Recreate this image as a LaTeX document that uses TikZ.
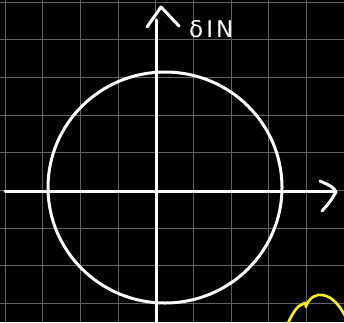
\documentclass[tikz,border=0pt]{standalone}
\usepackage{fontspec}
\setmainfont{DejaVu Sans}
\begin{document}
\begin{tikzpicture}[x=1pt,y=-1pt,
  gridline/.style={draw=white!38!black,line width=0.9pt},
  axisline/.style={draw=white,line width=3pt,line cap=round,line join=round},
  curveline/.style={draw=white,line width=3pt},
  markline/.style={draw=yellow,line width=2.6pt,line cap=round,line join=round},
  labeltext/.style={text=white,font=\fontsize{23}{23}\selectfont,inner sep=0pt}]
\fill[black] (0,0) rectangle (344,322);
\useasboundingbox (0,0) rectangle (344,322);
% grid
\foreach \k in {0,...,9}{
  \draw[gridline] ({5+37.7*\k},0) -- ({5+37.7*\k},322);
}
\foreach \k in {0,...,8}{
  \draw[gridline] (0,{2+37.7*\k}) -- (344,{2+37.7*\k});
}
% coordinates
\coordinate (xl) at (5,191);
\coordinate (xr) at (335,191);
\coordinate (xa1) at (320,181);
\coordinate (xa2) at (336,192);
\coordinate (xa3) at (322,211);
\coordinate (yb) at (156,322);
\coordinate (yt) at (156,20);
\coordinate (ya1) at (147,27);
\coordinate (ya2) at (161,7);
\coordinate (ya3) at (179,26);
\coordinate (c) at (165,187.5);
% axes
\draw[axisline] (xl) -- (xr);
\draw[axisline] (xa1) .. controls (333,187) .. (xa2) .. controls (330,202) .. (xa3);
\draw[axisline] (yb) -- (yt);
\draw[axisline] (ya1) -- (ya2) -- (ya3);
% circle
\draw[curveline] (c) ellipse [x radius=117, y radius=115.5];
% label
\node[labeltext,anchor=west] (lbl) at (189,29) {δ\kern3pt I\kern3pt N};
% yellow mark
\coordinate (m1) at (288,323);
\coordinate (m2) at (303,304);
\coordinate (m3) at (306,307);
\coordinate (m4) at (345,316);
\draw[markline] (m1) .. controls (293,312) and (298,305) .. (m2) .. controls (305,302) .. (m3);
\draw[markline] (306,306) .. controls (310,296) and (318,294) .. (322,295) .. controls (332,296) and (340,306) .. (m4);
\end{tikzpicture}
\end{document}
